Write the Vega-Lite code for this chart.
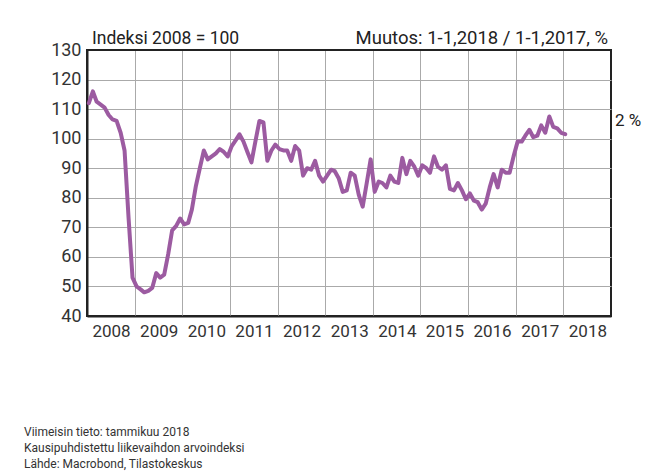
{
  "$schema": "https://vega.github.io/schema/vega-lite/v6.json",
  "width": 524,
  "height": 266,
  "autosize": {"type": "none"},
  "padding": {"left": 87, "top": 50, "right": 56, "bottom": 160},
  "background": "white",
  "config": {
    "font": "Roboto",
    "view": {"stroke": "#222", "strokeWidth": 2},
    "axis": {"labelFont": "Roboto", "labelColor": "#333", "labelFontSize": 17, "ticks": false, "domainColor": "#222", "domainWidth": 2, "gridWidth": 1, "title": null}
  },
  "title": {
    "text": ["Viimeisin tieto: tammikuu 2018", "Kausipuhdistettu liikevaihdon arvoindeksi", "Lähde: Macrobond, Tilastokeskus"],
    "orient": "bottom",
    "anchor": "start",
    "frame": "group",
    "dx": -63,
    "offset": 88,
    "fontSize": 12,
    "fontWeight": "normal",
    "font": "Roboto",
    "color": "#333",
    "lineHeight": 16
  },
  "datasets": {
    "series": [
      {"d": "2008-01-15", "v": 112}, {"d": "2008-02-15", "v": 116}, {"d": "2008-03-15", "v": 112.5}, {"d": "2008-04-15", "v": 111.5},
      {"d": "2008-05-15", "v": 110.5}, {"d": "2008-06-15", "v": 108}, {"d": "2008-07-15", "v": 106.5}, {"d": "2008-08-15", "v": 106},
      {"d": "2008-09-15", "v": 102}, {"d": "2008-10-15", "v": 96}, {"d": "2008-11-15", "v": 73}, {"d": "2008-12-15", "v": 53},
      {"d": "2009-01-15", "v": 50}, {"d": "2009-02-15", "v": 49}, {"d": "2009-03-15", "v": 48}, {"d": "2009-04-15", "v": 48.5},
      {"d": "2009-05-15", "v": 49.5}, {"d": "2009-06-15", "v": 54.5}, {"d": "2009-07-15", "v": 53}, {"d": "2009-08-15", "v": 54},
      {"d": "2009-09-15", "v": 61}, {"d": "2009-10-15", "v": 69}, {"d": "2009-11-15", "v": 70.5}, {"d": "2009-12-15", "v": 73},
      {"d": "2010-01-15", "v": 71}, {"d": "2010-02-15", "v": 71.5}, {"d": "2010-03-15", "v": 76}, {"d": "2010-04-15", "v": 84},
      {"d": "2010-05-15", "v": 90}, {"d": "2010-06-15", "v": 96}, {"d": "2010-07-15", "v": 93}, {"d": "2010-08-15", "v": 94},
      {"d": "2010-09-15", "v": 95}, {"d": "2010-10-15", "v": 96.5}, {"d": "2010-11-15", "v": 95.5}, {"d": "2010-12-15", "v": 94},
      {"d": "2011-01-15", "v": 97.5}, {"d": "2011-02-15", "v": 99.5}, {"d": "2011-03-15", "v": 101.5}, {"d": "2011-04-15", "v": 99},
      {"d": "2011-05-15", "v": 95.5}, {"d": "2011-06-15", "v": 92}, {"d": "2011-07-15", "v": 99}, {"d": "2011-08-15", "v": 106},
      {"d": "2011-09-15", "v": 105.5}, {"d": "2011-10-15", "v": 92.5}, {"d": "2011-11-15", "v": 96}, {"d": "2011-12-15", "v": 98},
      {"d": "2012-01-15", "v": 96.5}, {"d": "2012-02-15", "v": 96}, {"d": "2012-03-15", "v": 96}, {"d": "2012-04-15", "v": 92.5},
      {"d": "2012-05-15", "v": 97.5}, {"d": "2012-06-15", "v": 96}, {"d": "2012-07-15", "v": 87.5}, {"d": "2012-08-15", "v": 90},
      {"d": "2012-09-15", "v": 89.5}, {"d": "2012-10-15", "v": 92.5}, {"d": "2012-11-15", "v": 87.5}, {"d": "2012-12-15", "v": 85.5},
      {"d": "2013-01-15", "v": 87.5}, {"d": "2013-02-15", "v": 89.5}, {"d": "2013-03-15", "v": 89}, {"d": "2013-04-15", "v": 86.5},
      {"d": "2013-05-15", "v": 82}, {"d": "2013-06-15", "v": 82.5}, {"d": "2013-07-15", "v": 88.5}, {"d": "2013-08-15", "v": 87.5},
      {"d": "2013-09-15", "v": 81}, {"d": "2013-10-15", "v": 77}, {"d": "2013-11-15", "v": 85}, {"d": "2013-12-15", "v": 93},
      {"d": "2014-01-15", "v": 82}, {"d": "2014-02-15", "v": 85.5}, {"d": "2014-03-15", "v": 85}, {"d": "2014-04-15", "v": 83.5},
      {"d": "2014-05-15", "v": 87.5}, {"d": "2014-06-15", "v": 85.5}, {"d": "2014-07-15", "v": 85}, {"d": "2014-08-15", "v": 93.5},
      {"d": "2014-09-15", "v": 88}, {"d": "2014-10-15", "v": 92.5}, {"d": "2014-11-15", "v": 90.5}, {"d": "2014-12-15", "v": 87.5},
      {"d": "2015-01-15", "v": 91}, {"d": "2015-02-15", "v": 90}, {"d": "2015-03-15", "v": 88.5}, {"d": "2015-04-15", "v": 94},
      {"d": "2015-05-15", "v": 90.5}, {"d": "2015-06-15", "v": 89.5}, {"d": "2015-07-15", "v": 91}, {"d": "2015-08-15", "v": 83},
      {"d": "2015-09-15", "v": 82.5}, {"d": "2015-10-15", "v": 85}, {"d": "2015-11-15", "v": 82.5}, {"d": "2015-12-15", "v": 79.5},
      {"d": "2016-01-15", "v": 81.5}, {"d": "2016-02-15", "v": 79}, {"d": "2016-03-15", "v": 78.5}, {"d": "2016-04-15", "v": 76},
      {"d": "2016-05-15", "v": 78}, {"d": "2016-06-15", "v": 83.5}, {"d": "2016-07-15", "v": 88}, {"d": "2016-08-15", "v": 83.5},
      {"d": "2016-09-15", "v": 89.5}, {"d": "2016-10-15", "v": 88.5}, {"d": "2016-11-15", "v": 88.5}, {"d": "2016-12-15", "v": 94},
      {"d": "2017-01-15", "v": 99}, {"d": "2017-02-15", "v": 99}, {"d": "2017-03-15", "v": 101}, {"d": "2017-04-15", "v": 103},
      {"d": "2017-05-15", "v": 100.5}, {"d": "2017-06-15", "v": 101}, {"d": "2017-07-15", "v": 104.5}, {"d": "2017-08-15", "v": 102},
      {"d": "2017-09-15", "v": 107.5}, {"d": "2017-10-15", "v": 104}, {"d": "2017-11-15", "v": 103.5}, {"d": "2017-12-15", "v": 102},
      {"d": "2018-01-15", "v": 101.5}
    ],
    "headLeft": [{"d": "2008-01-01", "v": 130, "t": "Indeksi 2008 = 100"}],
    "headRight": [{"d": "2019-01-01", "v": 130, "t": "Muutos: 1-1,2018 / 1-1,2017, %"}],
    "change": [{"d": "2019-01-01", "v": 106, "t": "2 %"}]
  },
  "encoding": {
    "x": {
      "field": "d", "type": "temporal",
      "scale": {"domain": [{"year": 2008, "month": 1, "date": 1}, {"year": 2019, "month": 1, "date": 1}]},
      "axis": {
        "values": [{"year": 2008}, {"year": 2009}, {"year": 2010}, {"year": 2011}, {"year": 2012}, {"year": 2013}, {"year": 2014}, {"year": 2015}, {"year": 2016}, {"year": 2017}, {"year": 2018}],
        "format": "%Y",
        "labelOffset": 24,
        "labelFlush": false,
        "labelOverlap": false,
        "labelPadding": 7,
        "grid": true,
        "gridColor": {"condition": {"test": "year(datum.value) == 2008", "value": "#222"}, "value": "#aaaaaa"}
      }
    },
    "y": {
      "field": "v", "type": "quantitative",
      "scale": {"domain": [40, 130], "nice": false, "zero": false},
      "axis": {
        "values": [40, 50, 60, 70, 80, 90, 100, 110, 120, 130],
        "labelOverlap": false,
        "labelFlush": false,
        "labelBound": false,
        "labelPadding": 6,
        "labelFontSize": 18,
        "grid": true,
        "gridColor": {"condition": {"test": "datum.value == 130 || datum.value == 40", "value": "#222"}, "value": "#aaaaaa"}
      }
    }
  },
  "layer": [
    {
      "data": {"name": "series"},
      "mark": {"type": "line", "color": "#9C5BA1", "strokeWidth": 4, "strokeJoin": "round", "strokeCap": "round"}
    },
    {
      "data": {"name": "headLeft"},
      "mark": {"type": "text", "align": "left", "baseline": "alphabetic", "dx": 5, "dy": -6, "fontSize": 17.5, "color": "#222", "font": "Roboto"},
      "encoding": {"text": {"field": "t"}}
    },
    {
      "data": {"name": "headRight"},
      "mark": {"type": "text", "align": "right", "baseline": "alphabetic", "dx": -3, "dy": -6, "fontSize": 18.5, "color": "#222", "font": "Roboto"},
      "encoding": {"text": {"field": "t"}}
    },
    {
      "data": {"name": "change"},
      "mark": {"type": "text", "align": "left", "baseline": "middle", "dx": 4, "fontSize": 17, "color": "#222", "font": "Roboto"},
      "encoding": {"text": {"field": "t"}}
    }
  ]
}
